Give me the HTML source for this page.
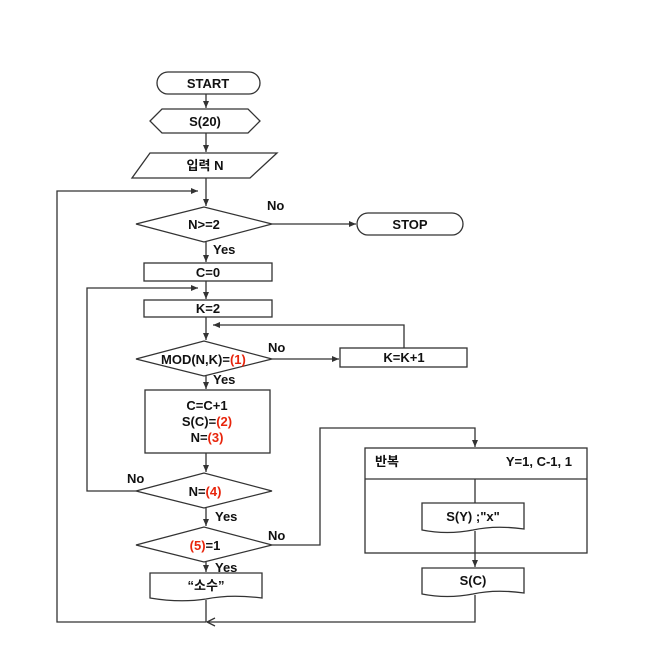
<!DOCTYPE html>
<html><head><meta charset="utf-8"><style>
body{margin:0;background:#fff}
svg{display:block}
text{font-family:"Liberation Sans","Noto Sans CJK KR",sans-serif;font-size:13px;font-weight:bold;fill:#111}
.r{fill:#e8250c}
</style></head><body>
<svg width="655" height="651" viewBox="0 0 655 651" xmlns="http://www.w3.org/2000/svg">
<defs><marker id="a" markerWidth="8" markerHeight="8" refX="7" refY="4" orient="auto" markerUnits="userSpaceOnUse"><path d="M0,1 L7,4 L0,7z" fill="#333"/></marker></defs>
<g stroke="#333" stroke-width="1.3" fill="none">
<rect x="157" y="72" width="103" height="22" rx="11" fill="#fff"/>
<polygon points="162,109 248,109 260,121 248,133 162,133 150,121" fill="#fff"/>
<polygon points="150,153 277,153 250,178 132,178" fill="#fff"/>
<polygon points="136,224 204,207 272,224 204,242" fill="#fff"/>
<rect x="357" y="213" width="106" height="22" rx="11" fill="#fff"/>
<rect x="144" y="263" width="128" height="18" fill="#fff"/>
<rect x="144" y="300" width="128" height="17" fill="#fff"/>
<polygon points="136,359 204,341 272,359 204,376" fill="#fff"/>
<rect x="340" y="348" width="127" height="19" fill="#fff"/>
<rect x="145" y="390" width="125" height="63" fill="#fff"/>
<polygon points="136,491 204,473 272,491 204,508" fill="#fff"/>
<polygon points="136,545 204,527 272,545 204,562" fill="#fff"/>
<path d="M150,573 H262 V598 Q230,594 206,599 Q180,603 150,598 Z" fill="#fff"/>
<rect x="365" y="448" width="222" height="105" fill="#fff"/>
<line x1="365" y1="479" x2="587" y2="479"/>
<path d="M422,503 H524 V529 Q495,525 473,530 Q447,535 422,530 Z" fill="#fff"/>
<path d="M422,568 H524 V593 Q495,589 473,594 Q447,599 422,594 Z" fill="#fff"/>
<!-- connectors -->
<line x1="206" y1="94" x2="206" y2="108" marker-end="url(#a)"/>
<line x1="206" y1="133" x2="206" y2="152" marker-end="url(#a)"/>
<line x1="206" y1="178" x2="206" y2="206" marker-end="url(#a)"/>
<line x1="272" y1="224" x2="356" y2="224" marker-end="url(#a)"/>
<line x1="206" y1="242" x2="206" y2="262" marker-end="url(#a)"/>
<line x1="206" y1="281" x2="206" y2="299" marker-end="url(#a)"/>
<line x1="206" y1="317" x2="206" y2="340" marker-end="url(#a)"/>
<line x1="272" y1="359" x2="339" y2="359" marker-end="url(#a)"/>
<polyline points="404,348 404,325 213,325" marker-end="url(#a)"/>
<line x1="206" y1="376" x2="206" y2="389" marker-end="url(#a)"/>
<line x1="206" y1="453" x2="206" y2="472" marker-end="url(#a)"/>
<polyline points="136,491 87,491 87,288 198,288" marker-end="url(#a)"/>
<line x1="206" y1="508" x2="206" y2="526" marker-end="url(#a)"/>
<line x1="206" y1="562" x2="206" y2="572" marker-end="url(#a)"/>
<polyline points="272,545 320,545 320,428 475,428 475,447" marker-end="url(#a)"/>
<line x1="475" y1="479" x2="475" y2="503"/>
<line x1="475" y1="531" x2="475" y2="567" marker-end="url(#a)"/>
<polyline points="475,595 475,622 207,622"/>
<line x1="206" y1="600" x2="206" y2="622"/>
<path d="M215,618 L207,622 L215,626"/>
<polyline points="206,622 57,622 57,191 198,191" marker-end="url(#a)"/>
</g>
<text x="208" y="88" text-anchor="middle">START</text>
<text x="205" y="126" text-anchor="middle">S(20)</text>
<text x="205" y="170" text-anchor="middle">입력 N</text>
<text x="204" y="229" text-anchor="middle">N&gt;=2</text>
<text x="267" y="210">No</text>
<text x="410" y="229" text-anchor="middle">STOP</text>
<text x="213" y="254">Yes</text>
<text x="208" y="277" text-anchor="middle">C=0</text>
<text x="208" y="313" text-anchor="middle">K=2</text>
<text x="161" y="364">MOD(N,K)=<tspan class="r">(1)</tspan></text>
<text x="268" y="352">No</text>
<text x="213" y="384">Yes</text>
<text x="404" y="362" text-anchor="middle">K=K+1</text>
<text x="207" y="410" text-anchor="middle">C=C+1</text>
<text x="207" y="426" text-anchor="middle">S(C)=<tspan class="r">(2)</tspan></text>
<text x="207" y="442" text-anchor="middle">N=<tspan class="r">(3)</tspan></text>
<text x="127" y="483">No</text>
<text x="205" y="496" text-anchor="middle">N=<tspan class="r">(4)</tspan></text>
<text x="215" y="521">Yes</text>
<text x="205" y="550" text-anchor="middle"><tspan class="r">(5)</tspan>=1</text>
<text x="268" y="540">No</text>
<text x="215" y="572">Yes</text>
<text x="206" y="590" text-anchor="middle">“소수”</text>
<text x="375" y="466">반복</text>
<text x="572" y="466" text-anchor="end">Y=1, C-1, 1</text>
<text x="473" y="521" text-anchor="middle">S(Y) ;"x"</text>
<text x="473" y="585" text-anchor="middle">S(C)</text>
</svg>
</body></html>
